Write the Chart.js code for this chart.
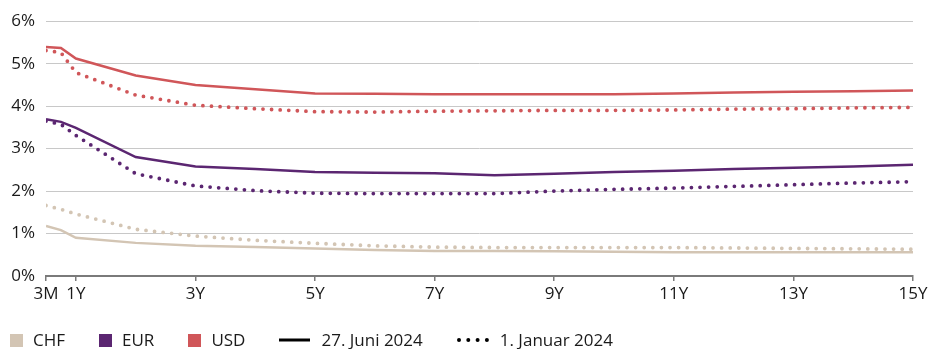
<!DOCTYPE html>
<html lang="de">
<head>
<meta charset="utf-8">
<title>Zinskurven CHF, EUR, USD</title>
<script src="https://cdn.jsdelivr.net/npm/chart.js@4"></script>
<style>
  html, body { margin: 0; padding: 0; background: #fff; }
  body { width: 932px; height: 349px; position: relative; overflow: hidden;
         font-family: "Open Sans", sans-serif; color: #1a1a1a; }
  #curveChart { position: absolute; left: 0; top: 0; }
  #legend { position: absolute; left: 10px; top: 328px; display: flex; align-items: center;
            font-size: 17px; line-height: 24px; white-space: nowrap; }
  .item { display: flex; align-items: center; margin-right: 34px; }
  .swatch { width: 13px; height: 13px; margin-right: 10px; }
  .icon { margin-right: 11px; display: block; }
</style>
</head>
<body>
<canvas id="curveChart" width="932" height="349"></canvas>
<div id="legend"></div>

<script>
// Laufzeiten (Position auf der Achse in Jahren; 3M sitzt bei 0.5)
const tenors = ["3M", "6M", "1Y", "2Y", "3Y", "4Y", "5Y", "6Y", "7Y", "8Y", "9Y", "10Y", "11Y", "12Y", "13Y", "14Y", "15Y"];
const tenorPos = [0.5, 0.75, 1, 2, 3, 4, 5, 6, 7, 8, 9, 10, 11, 12, 13, 14, 15];

// Achsenbeschriftung
const tickLabels = ["3M", "1Y", "3Y", "5Y", "7Y", "9Y", "11Y", "13Y", "15Y"];
const tickPos = [0.5, 1, 3, 5, 7, 9, 11, 13, 15];

// Renditen in % - 27. Juni 2024
const chfJun = [1.18, 1.08, 0.90, 0.78, 0.71, 0.68, 0.65, 0.61, 0.59, 0.59, 0.58, 0.57, 0.56, 0.56, 0.56, 0.56, 0.56];
const eurJun = [3.69, 3.63, 3.49, 2.80, 2.58, 2.52, 2.45, 2.43, 2.42, 2.37, 2.41, 2.45, 2.48, 2.52, 2.55, 2.58, 2.62];
const usdJun = [5.39, 5.37, 5.12, 4.72, 4.50, 4.40, 4.30, 4.29, 4.28, 4.28, 4.28, 4.28, 4.30, 4.32, 4.34, 4.35, 4.37];

// Renditen in % - 1. Januar 2024
const chfJan = [1.66, 1.57, 1.46, 1.10, 0.94, 0.84, 0.77, 0.71, 0.68, 0.67, 0.67, 0.67, 0.67, 0.66, 0.65, 0.64, 0.63];
const eurJan = [3.65, 3.57, 3.31, 2.41, 2.12, 2.01, 1.95, 1.94, 1.94, 1.94, 2.00, 2.04, 2.07, 2.11, 2.15, 2.19, 2.22];
const usdJan = [5.31, 5.26, 4.79, 4.26, 4.02, 3.94, 3.87, 3.86, 3.88, 3.89, 3.90, 3.90, 3.91, 3.93, 3.94, 3.96, 3.97];

const currencies = ["CHF", "EUR", "USD"];
const dateLabels = ["27. Juni 2024", "1. Januar 2024"];

const colors = { CHF: "#d3c5b4", EUR: "#5b2671", USD: "#d05659" };

function points(values) {
  return values.map((v, i) => ({ x: tenorPos[i], y: v }));
}

function solid(name, values) {
  return {
    label: name + " " + dateLabels[0],
    data: points(values),
    borderColor: colors[name],
    borderWidth: 2.5,
    pointRadius: 0,
    tension: 0
  };
}

function dotted(name, values) {
  return {
    label: name + " " + dateLabels[1],
    data: points(values),
    borderColor: colors[name],
    borderWidth: 3.8,
    borderDash: [0, 8.6],
    borderCapStyle: "round",
    pointRadius: 0,
    tension: 0
  };
}

const ctx = document.getElementById("curveChart").getContext("2d");

new Chart(ctx, {
  type: "line",
  data: {
    datasets: [
      dotted("CHF", chfJan), solid("CHF", chfJun),
      dotted("EUR", eurJan), solid("EUR", eurJun),
      dotted("USD", usdJan), solid("USD", usdJun)
    ]
  },
  options: {
    responsive: false,
    animation: false,
    layout: { padding: { top: 20, right: 19, bottom: 40, left: 0 } },
    plugins: { legend: { display: false }, tooltip: { enabled: false } },
    scales: {
      x: {
        type: "linear",
        min: 0.5,
        max: 15,
        afterBuildTicks: axis => { axis.ticks = tickPos.map(v => ({ value: v })); },
        afterFit: axis => { axis.height = 33; },
        ticks: {
          callback: (v, i) => tickLabels[i],
          autoSkip: false,
          maxRotation: 0,
          padding: 3,
          color: "#1a1a1a",
          font: { family: "Open Sans", size: 17 }
        },
        grid: { drawOnChartArea: false, drawTicks: true, tickLength: 5, color: "#7a7a7a", lineWidth: 1.5 },
        border: { color: "#7a7a7a", width: 2 }
      },
      y: {
        min: 0,
        max: 6,
        afterFit: axis => { axis.width = 46; },
        ticks: {
          stepSize: 1,
          callback: v => v + "%",
          padding: 11,
          color: "#1a1a1a",
          font: { family: "Open Sans", size: 17 }
        },
        grid: { color: "#c8c8c8", lineWidth: 1, drawTicks: false },
        border: { display: false }
      }
    }
  }
});

// Legende unten
const legend = document.getElementById("legend");
currencies.forEach(name => {
  legend.insertAdjacentHTML("beforeend",
    `<div class="item"><span class="swatch" style="background:${colors[name]}"></span>${name}</div>`);
});
legend.insertAdjacentHTML("beforeend",
  `<div class="item"><svg class="icon" width="31" height="6"><line x1="0" y1="3" x2="31" y2="3" stroke="#000" stroke-width="3"/></svg>${dateLabels[0]}</div>`);
legend.insertAdjacentHTML("beforeend",
  `<div class="item"><svg class="icon" width="32" height="6"><line x1="2" y1="3" x2="30" y2="3" stroke="#000" stroke-width="4" stroke-linecap="round" stroke-dasharray="0 9.3"/></svg>${dateLabels[1]}</div>`);
</script>
</body>
</html>
